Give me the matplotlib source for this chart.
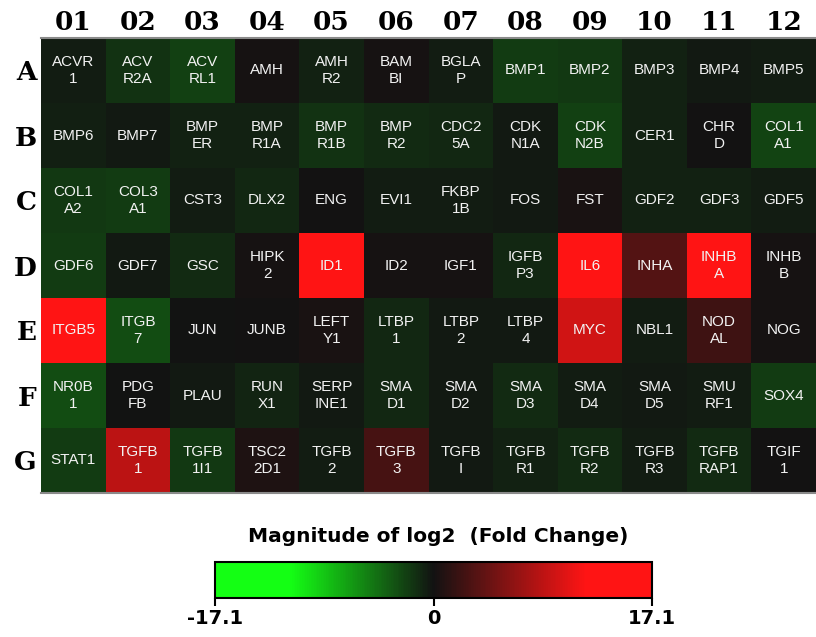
import numpy as np
import matplotlib
matplotlib.use("Agg")
from matplotlib import pyplot as plt
from matplotlib.colors import LinearSegmentedColormap, Normalize

rows = ["A", "B", "C", "D", "E", "F", "G"]
cols = ["01", "02", "03", "04", "05", "06", "07", "08", "09", "10", "11", "12"]

# gene names, one list per plate row
genes_a = ["ACVR\n1", "ACV\nR2A", "ACV\nRL1", "AMH", "AMH\nR2", "BAM\nBI", "BGLA\nP", "BMP1", "BMP2", "BMP3", "BMP4", "BMP5"]
genes_b = ["BMP6", "BMP7", "BMP\nER", "BMP\nR1A", "BMP\nR1B", "BMP\nR2", "CDC2\n5A", "CDK\nN1A", "CDK\nN2B", "CER1", "CHR\nD", "COL1\nA1"]
genes_c = ["COL1\nA2", "COL3\nA1", "CST3", "DLX2", "ENG", "EVI1", "FKBP\n1B", "FOS", "FST", "GDF2", "GDF3", "GDF5"]
genes_d = ["GDF6", "GDF7", "GSC", "HIPK\n2", "ID1", "ID2", "IGF1", "IGFB\nP3", "IL6", "INHA", "INHB\nA", "INHB\nB"]
genes_e = ["ITGB5", "ITGB\n7", "JUN", "JUNB", "LEFT\nY1", "LTBP\n1", "LTBP\n2", "LTBP\n4", "MYC", "NBL1", "NOD\nAL", "NOG"]
genes_f = ["NR0B\n1", "PDG\nFB", "PLAU", "RUN\nX1", "SERP\nINE1", "SMA\nD1", "SMA\nD2", "SMA\nD3", "SMA\nD4", "SMA\nD5", "SMU\nRF1", "SOX4"]
genes_g = ["STAT1", "TGFB\n1", "TGFB\n1I1", "TSC2\n2D1", "TGFB\n2", "TGFB\n3", "TGFB\nI", "TGFB\nR1", "TGFB\nR2", "TGFB\nR3", "TGFB\nRAP1", "TGIF\n1"]

# log2 fold change
fc_a = [-0.5, -1.5, -2.2, 0.15, -0.7, 0.2, -0.5, -2.0, -1.8, -0.7, -0.4, -0.5]
fc_b = [-0.6, -0.3, -0.7, -0.7, -1.5, -1.2, -1.0, -0.4, -2.2, -0.7, 0.0, -2.3]
fc_c = [-1.8, -2.0, -0.5, -1.0, 0.1, -0.5, -0.5, -0.3, 0.4, -0.7, -0.7, -0.5]
fc_d = [-2.0, -0.4, -1.2, 0.2, 14.0, 0.15, 0.15, -1.0, 15.0, 3.3, 14.0, 0.15]
fc_e = [13.0, -2.7, -0.1, 0.1, 0.3, -1.0, -0.3, -0.4, 9.5, -0.5, 2.2, 0.15]
fc_f = [-2.7, -0.1, -0.4, -0.9, -0.3, -1.0, -0.3, -1.2, -0.5, -0.4, -0.5, -2.0]
fc_g = [-2.0, 8.5, -1.8, 0.6, -0.5, 2.6, -0.3, -0.7, -1.2, -0.5, -1.2, 0.0]

vmax = 17.1

genes = [genes_a, genes_b, genes_c, genes_d, genes_e, genes_f, genes_g]
values = np.array([fc_a, fc_b, fc_c, fc_d, fc_e, fc_f, fc_g])

cmap = LinearSegmentedColormap.from_list(
    "gr", [(0.0, "#14ff14"), (0.17, "#14ff14"), (0.5, "#121212"),
           (0.85, "#ff1414"), (1.0, "#ff1414")])
norm = Normalize(vmin=-vmax, vmax=vmax)

fig = plt.figure(figsize=(8.16, 6.37), dpi=100)
ax = fig.add_axes([41 / 816, 1 - 493 / 637, 775 / 816, 455 / 637])
ax.pcolormesh(np.arange(13), np.arange(8), values, cmap=cmap, norm=norm)
ax.set_xlim(0, 12)
ax.set_ylim(7, 0)

for i in range(len(rows)):
    for j in range(len(cols)):
        ax.text(j + 0.5, i + 0.5, genes[i][j], ha="center", va="center",
                color="#f2f2f2", fontsize=11, family="Liberation Sans",
                linespacing=1.25)

ax.set_xticks(np.arange(12) + 0.5)
ax.set_xticklabels(cols, family="DejaVu Serif", fontsize=19, fontweight="bold")
ax.set_yticks(np.arange(7) + 0.5)
ax.set_yticklabels(rows, family="DejaVu Serif", fontsize=19, fontweight="bold")
ax.tick_params(length=0, top=True, labeltop=True, bottom=False, labelbottom=False, pad=2)
ax.tick_params(axis="y", pad=3)
for s in ["left", "right"]:
    ax.spines[s].set_visible(False)
for s in ["top", "bottom"]:
    ax.spines[s].set_color("#8a8a8a")
    ax.spines[s].set_linewidth(1.5)

# colour bar
cax = fig.add_axes([215 / 816, 1 - 598 / 637, 437 / 816, 36 / 637])
cb = fig.colorbar(plt.cm.ScalarMappable(norm=norm, cmap=cmap), cax=cax,
                  orientation="horizontal", ticks=[-vmax, 0, vmax])
cb.outline.set_linewidth(1.5)
cb.outline.set_edgecolor("black")
cb.ax.set_xticklabels(["-17.1", "0", "17.1"], fontsize=14, fontweight="bold")
cb.ax.tick_params(length=6, width=1.5, pad=2)

fig.text(438 / 816, 1 - 537 / 637, "Magnitude of log2  (Fold Change)", ha="center",
         va="center", fontsize=14.5, fontweight="bold")

fig.savefig("out.png", dpi=100)
